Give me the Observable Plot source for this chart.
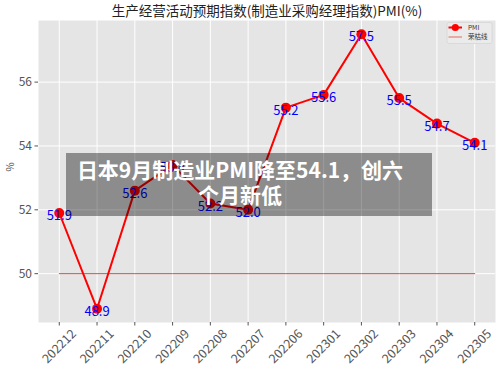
<!DOCTYPE html>
<html>
<head>
<meta charset="utf-8">
<script src="https://cdn.jsdelivr.net/npm/d3@7"></script>
<script src="https://cdn.jsdelivr.net/npm/@observablehq/plot@0.6"></script>
<style>
  body { margin: 0; background: #fff; }
  #wrap { position: relative; width: 500px; height: 369px; }
  #overlay {
    position: absolute; left: 66px; top: 153px; width: 366px; height: 63px;
    background: rgba(0,0,0,0.39); box-sizing: border-box;
    padding: 4px 18px 0 0;
    color: #fff; font: bold 21px "Noto Sans CJK SC", sans-serif; line-height: 25px;
    text-align: center; white-space: nowrap;
  }
  #legend { position: absolute; left: 0; top: 0; pointer-events: none; }
</style>
</head>
<body>
<div id="wrap"></div>
<script>
const months = ["202212","202211","202210","202209","202208","202207","202206","202301","202302","202303","202304","202305"];
const pmi = [51.9, 48.9, 52.6, 53.4, 52.2, 52.0, 55.2, 55.6, 57.5, 55.5, 54.7, 54.1];
const threshold = months.map(() => 50);
const yTicks = [50, 52, 54, 56];
const title = "生产经营活动预期指数(制造业采购经理指数)PMI(%)";
const overlayLines = ["日本9月制造业PMI降至54.1，创六", "个月新低"];
const legendLabels = ["PMI", "荣枯线"];

const data = months.map((m, i) => ({m, v: pmi[i], t: threshold[i], label: pmi[i].toFixed(1)}));
const font = '"Noto Sans CJK SC", sans-serif';

const chart = Plot.plot({
  width: 500, height: 369,
  marginLeft: 38, marginRight: 5, marginTop: 20, marginBottom: 47,
  style: {fontFamily: font, background: "#fff"},
  x: {type: "point", domain: months, padding: 0.55, round: false, axis: null},
  y: {domain: [48.47, 57.93], axis: null},
  marks: [
    Plot.frame({fill: "#E5E5E5", stroke: null}),
    Plot.ruleX(months, {x: d => d, stroke: "white", strokeWidth: 1}),
    Plot.ruleY(yTicks, {y: d => d, stroke: "white", strokeWidth: 1}),
    Plot.axisY(yTicks, {ticks: yTicks, tickSize: 3.5, tickPadding: 3, stroke: "#555", fill: "#555", fontSize: 12, label: null}),
    Plot.axisX(months, {ticks: months, tickSize: 3.5, stroke: "#555", text: null, label: null}),
    Plot.text(months, {x: d => d, text: d => d, frameAnchor: "bottom", dy: 24, rotate: -45, textAnchor: "middle", lineAnchor: "middle", fill: "#555", fontSize: 12.5}),
    Plot.text(["%"], {text: d => d, frameAnchor: "left", dx: -28, rotate: -90, fill: "#555", fontSize: 10}),
    Plot.text([title], {text: d => d, frameAnchor: "top", dy: -9, lineAnchor: "middle", fill: "#222", fontSize: 13.5}),
    // threshold
    Plot.line(data, {x: "m", y: "t", stroke: "#E24A33", strokeWidth: 1}),
    // PMI
    Plot.line(data, {x: "m", y: "v", stroke: "red", strokeWidth: 2}),
    Plot.dot(data, {x: "m", y: "v", r: 5, fill: "red", stroke: null}),
    Plot.text(data, {x: "m", y: "v", text: "label", fill: "blue", fontSize: 13, lineAnchor: "top", dy: -2})
  ]
});
const wrap = document.getElementById("wrap");
wrap.appendChild(chart);
chart.querySelectorAll("text").forEach(t => { if (t.getAttribute("fill") === "blue") t.style.letterSpacing = "0.6px"; });

// legend
const ns = "http://www.w3.org/2000/svg";
const lg = document.createElementNS(ns, "svg");
lg.setAttribute("id", "legend");
lg.setAttribute("width", 500); lg.setAttribute("height", 369);
const colors = ["red", "#E24A33"];
let html = `<rect x="447" y="22.5" width="45" height="21" rx="2" fill="#ebebeb" stroke="#d6d6d6" stroke-width="0.8"/>`;
legendLabels.forEach((lab, i) => {
  const y = 27.5 + i * 9.5;
  html += `<line x1="448.5" x2="462" y1="${y}" y2="${y}" stroke="${colors[i]}" stroke-width="${i === 0 ? 2 : 1}" ${i === 1 ? 'stroke-opacity="0.8"' : ''}/>`;
  if (i === 0) html += `<circle cx="455.3" cy="${y}" r="3.6" fill="red"/>`;
  html += `<text x="468" y="${y}" dy="0.35em" font-size="6.5" fill="#333" font-family='${font}'>${lab}</text>`;
});
lg.innerHTML = html;
wrap.appendChild(lg);

// overlay
const ov = document.createElement("div");
ov.id = "overlay";
ov.innerHTML = overlayLines.join("<br>");
wrap.appendChild(ov);
</script>
</body>
</html>
